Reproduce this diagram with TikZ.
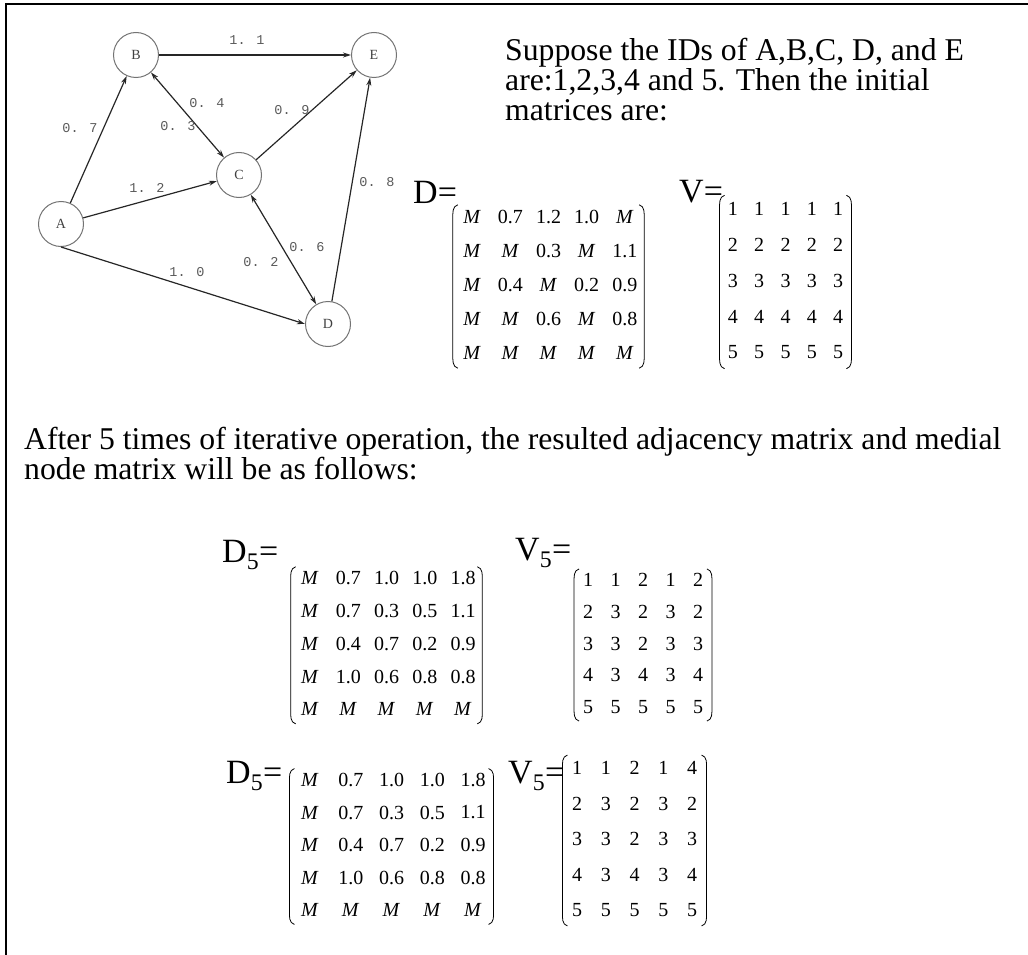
\documentclass[tikz,border=0pt]{standalone}
\usepackage{fontspec}
\setmainfont{Liberation Serif}
\newfontfamily\graphfont{Liberation Mono}
\usetikzlibrary{matrix,arrows.meta}
\newcommand\mM{\textit{M}}
\newcommand\mparens[1]{%
 \draw[paren] ([xshift=5pt,yshift=-5pt]#1.north west) to[out=195,in=90] ([yshift=-19pt]#1.north west) -- ([yshift=16pt]#1.south west) to[out=-90,in=165] ([xshift=5pt,yshift=2pt]#1.south west);
 \draw[paren] ([xshift=-5pt,yshift=-5pt]#1.north east) to[out=-15,in=90] ([yshift=-19pt]#1.north east) -- ([yshift=16pt]#1.south east) to[out=-90,in=15] ([xshift=-5pt,yshift=2pt]#1.south east);
}
\begin{document}
\begin{tikzpicture}[x=1pt,y=-1pt,
  gnode/.style={circle,draw=black!55,line width=1pt,minimum size=45pt,inner sep=0,font=\fontsize{14}{14}\selectfont,text=black!75},
  edge/.style={draw=black!85,line width=1.2pt,-{Stealth[length=8pt,width=5pt]}},
  bedge/.style={draw=black!85,line width=1.2pt,{Stealth[length=8pt,width=5pt]}-{Stealth[length=8pt,width=5pt]}},
  elab/.style={font=\graphfont\fontsize{13.5}{13.5}\selectfont,text=black!65,inner sep=0},
  txt/.style={anchor=base west,inner sep=0,font=\fontsize{31.7}{31.7}\selectfont},
  big/.style={anchor=base west,inner sep=0,font=\fontsize{34}{34}\selectfont},
  mat/.style={matrix of nodes,inner sep=0,column sep=0,row sep=0,nodes={inner sep=0,anchor=center,font=\fontsize{20}{20}\selectfont}},
  paren/.style={line width=0.8pt}
]
\useasboundingbox (0,0) rectangle (1028,955);
\draw[line width=1.6pt] (6,955) -- (6,4) -- (1028,4);

% graph
\node[gnode] (A) at (61,224) {A};
\node[gnode] (B) at (136,55) {B};
\node[gnode] (C) at (239,175) {C};
\node[gnode] (D) at (328,324) {D};
\node[gnode] (E) at (374,55) {E};
\draw[edge] (A) -- (B);
\draw[edge] (B) -- (E);
\draw[bedge] (B) -- (C);
\draw[edge] (C) -- (E);
\draw[edge] (A) -- (C);
\draw[edge] (A.south) -- (D.west);
\draw[bedge] (C) -- (D);
\draw[edge] (D) -- (E);
\node[elab] (l11) at (247,40) {1. 1};
\node[elab] (l07) at (80,128) {0. 7};
\node[elab] (l04) at (207,103) {0. 4};
\node[elab] (l03) at (178,126) {0. 3};
\node[elab] (l09) at (292,110) {0. 9};
\node[elab] (l12) at (147,188) {1. 2};
\node[elab] (l08) at (377,182) {0. 8};
\node[elab] (l06) at (307,247) {0. 6};
\node[elab] (l02) at (261,262) {0. 2};
\node[elab] (l10) at (187,272) {1. 0};

% text
\node[txt] (t1) at (505,61) {Suppose the IDs of A,B,C, D, and E};
\node[txt] (t2) at (505,91) {are:1,2,3,4 and 5. Then the initial};
\node[txt] (t3) at (505,121) {matrices are:};
\node[txt] (t4) at (24,449) {After 5 times of iterative operation, the resulted adjacency matrix and medial};
\node[txt] (t5) at (24,479) {node matrix will be as follows:};

% labels
\node[big] (Dl) at (413,203) {D=};
\node[big] (Vl) at (679,202) {V=};
\node[big] (D5l) at (222,562) {D\textsubscript{5}=};
\node[big] (V5l) at (515,560) {V\textsubscript{5}=};
\node[big] (D5lb) at (226,783) {D\textsubscript{5}=};
\node[big] (V5lb) at (508,783) {V\textsubscript{5}=};

% matrices
\matrix (Dm) [mat,nodes={minimum width=38.2pt,minimum height=34pt}] at (548.5,285) {
\mM & 0.7 & 1.2 & 1.0 & \mM \\
\mM & \mM & 0.3 & \mM & 1.1 \\
\mM & 0.4 & \mM & 0.2 & 0.9 \\
\mM & \mM & 0.6 & \mM & 0.8 \\
\mM & \mM & \mM & \mM & \mM \\
};
\mparens{Dm}
\matrix (Vm) [mat,nodes={minimum width=26.3pt,minimum height=36pt}] at (785.5,280.5) {
1 & 1 & 1 & 1 & 1 \\
2 & 2 & 2 & 2 & 2 \\
3 & 3 & 3 & 3 & 3 \\
4 & 4 & 4 & 4 & 4 \\
5 & 5 & 5 & 5 & 5 \\
};
\mparens{Vm}
\matrix (Dfa) [mat,nodes={minimum width=38.25pt,minimum height=32.75pt}] at (386.5,643.8) {
\mM & 0.7 & 1.0 & 1.0 & 1.8 \\
\mM & 0.7 & 0.3 & 0.5 & 1.1 \\
\mM & 0.4 & 0.7 & 0.2 & 0.9 \\
\mM & 1.0 & 0.6 & 0.8 & 0.8 \\
\mM & \mM & \mM & \mM & \mM \\
};
\mparens{Dfa}
\matrix (Vfa) [mat,nodes={minimum width=27.5pt,minimum height=31.75pt}] at (643,643.5) {
1 & 1 & 2 & 1 & 2 \\
2 & 3 & 2 & 3 & 2 \\
3 & 3 & 2 & 3 & 3 \\
4 & 3 & 4 & 3 & 4 \\
5 & 5 & 5 & 5 & 5 \\
};
\mparens{Vfa}
\matrix (Dfb) [mat,nodes={minimum width=40.75pt,minimum height=32.5pt}] at (391.5,845) {
\mM & 0.7 & 1.0 & 1.0 & 1.8 \\
\mM & 0.7 & 0.3 & 0.5 & 1.1 \\
\mM & 0.4 & 0.7 & 0.2 & 0.9 \\
\mM & 1.0 & 0.6 & 0.8 & 0.8 \\
\mM & \mM & \mM & \mM & \mM \\
};
\mparens{Dfb}
\matrix (Vfb) [mat,nodes={minimum width=28.75pt,minimum height=35.5pt}] at (634.5,839) {
1 & 1 & 2 & 1 & 4 \\
2 & 3 & 2 & 3 & 2 \\
3 & 3 & 2 & 3 & 3 \\
4 & 3 & 4 & 3 & 4 \\
5 & 5 & 5 & 5 & 5 \\
};
\mparens{Vfb}
\end{tikzpicture}
\end{document}
